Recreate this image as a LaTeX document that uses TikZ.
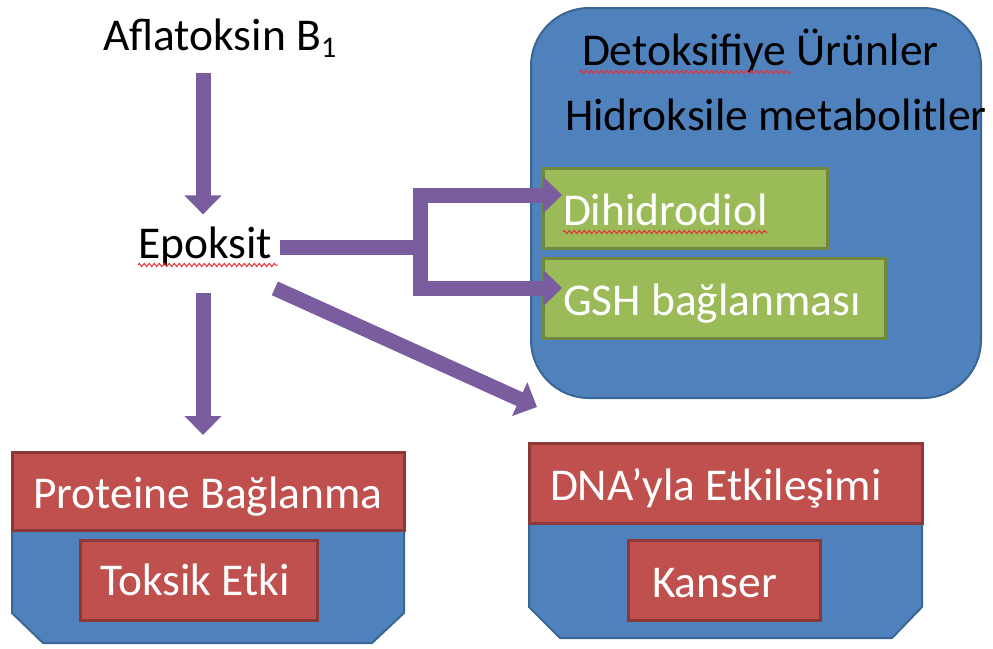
\documentclass[tikz,border=0pt]{standalone}
\usepackage{fontspec}
\setmainfont{Carlito}
\usetikzlibrary{arrows.meta,decorations.pathmorphing}

\definecolor{panelblue}{HTML}{4F81BD}
\definecolor{panelblueedge}{HTML}{3A6695}
\definecolor{boxred}{HTML}{C0504D}
\definecolor{boxrededge}{HTML}{8C3836}
\definecolor{boxgreen}{HTML}{9BBB59}
\definecolor{boxgreenedge}{HTML}{71893F}
\definecolor{flowpurple}{HTML}{7A5D9F}
\definecolor{spellred}{HTML}{E5333A}

\begin{document}
\begin{tikzpicture}[x=1pt,y=-1pt,
  every node/.style={inner sep=0pt, outer sep=0pt},
  txt/.style={anchor=base west, font=\fontsize{45.5}{50}\selectfont},
  wtxt/.style={txt, text=white},
  panel/.style={fill=panelblue, draw=panelblueedge, line width=2pt, line join=round},
  redbox/.style={rectangle, fill=boxred, draw=boxrededge, line width=3pt},
  greenbox/.style={rectangle, fill=boxgreen, draw=boxgreenedge, line width=3pt},
  flow/.style={draw=flowpurple, line width=15pt, line join=miter,
    -{Triangle[width=36pt,length=19pt]}},
  flowbar/.style={draw=flowpurple, line width=15pt, line join=miter},
  spell/.style={draw=spellred, line width=1pt, decorate,
    decoration={zigzag, amplitude=1.6pt, segment length=5pt}},
]
\useasboundingbox (0,0) rectangle (993,648);

% ---- detoxification panel (top right)
\node[panel, rectangle, rounded corners=58pt, minimum width=450pt, minimum height=390pt]
  (detox) at (756,203) {};
\node[txt] (detoxT) at (582,65) {Detoksifiye Ürünler};
\node[txt] (hydroT) at (565,130) {Hidroksile metabolitler};
\node[greenbox, minimum width=284pt, minimum height=80pt] (dih) at (685,208) {};
\node[wtxt] (dihT) at (563,225) {Dihidrodiol};
\node[greenbox, minimum width=342pt, minimum height=80pt] (gsh) at (714,298) {};
\node[wtxt] (gshT) at (563,315) {GSH bağlanması};

% ---- protein binding panel (bottom left)
\draw[panel] (12,452) -- (404,452) -- (404,613) -- (372,643) -- (43,643) -- (12,613) -- cycle;
\node[redbox, minimum width=392pt, minimum height=78pt] (prot) at (208,491) {};
\node[wtxt] (protT) at (33,508) {Proteine Bağlanma};
\node[redbox, minimum width=237pt, minimum height=80pt] (tox) at (198.5,580) {};
\node[wtxt] (toxT) at (100,595) {Toksik Etki};

% ---- DNA interaction panel (bottom right)
\draw[panel] (529,443) -- (922,443) -- (922,607) -- (892,638) -- (560,638) -- (529,607) -- cycle;
\node[redbox, minimum width=393pt, minimum height=80pt] (dna) at (725.5,483) {};
\node[wtxt] (dnaT) at (550,500) {DNA’yla Etkileşimi};
\node[redbox, minimum width=192pt, minimum height=80pt] (kan) at (724,580) {};
\node[wtxt] (kanT) at (652,597) {Kanser};

% ---- pathway labels
\node[txt] (afla) at (103,50) {Aflatoksin B\raisebox{-7pt}{\fontsize{30}{30}\selectfont 1}};
\node[txt] (epok) at (138,258) {Epoksit};

% ---- spell-check marks
\draw[spell] ([yshift=-7pt]epok.base west) -- ([yshift=-7pt,xshift=6pt]epok.base east);
\draw[spell] ([yshift=-7pt,xshift=-2pt]detoxT.base west) -- ++(212,0);
\draw[spell] ([yshift=-7pt]dihT.base west) -- ([yshift=-7pt]dihT.base east);

% ---- connectors
\coordinate (split) at (420,247);
\draw[flow] ([yshift=-16pt]afla.south -| 203,0) -- ([yshift=12pt]epok.north -| 203,0);
\draw[flow] ([yshift=-28pt]epok.south -| 203,0) -- ([yshift=17pt]prot.north -| 203,0);
\draw[flowbar] ([xshift=8pt]epok.east |- split) -- (split);
\draw[flow] (split) |- ([xshift=19pt,yshift=13pt]dih.west);
\draw[flow] (split) |- ([xshift=19pt,yshift=10pt]gsh.west);
\draw[flow] ([xshift=3pt,yshift=-23pt]epok.south east) -- ([xshift=8pt,yshift=36pt]dna.north west);
\end{tikzpicture}
\end{document}
